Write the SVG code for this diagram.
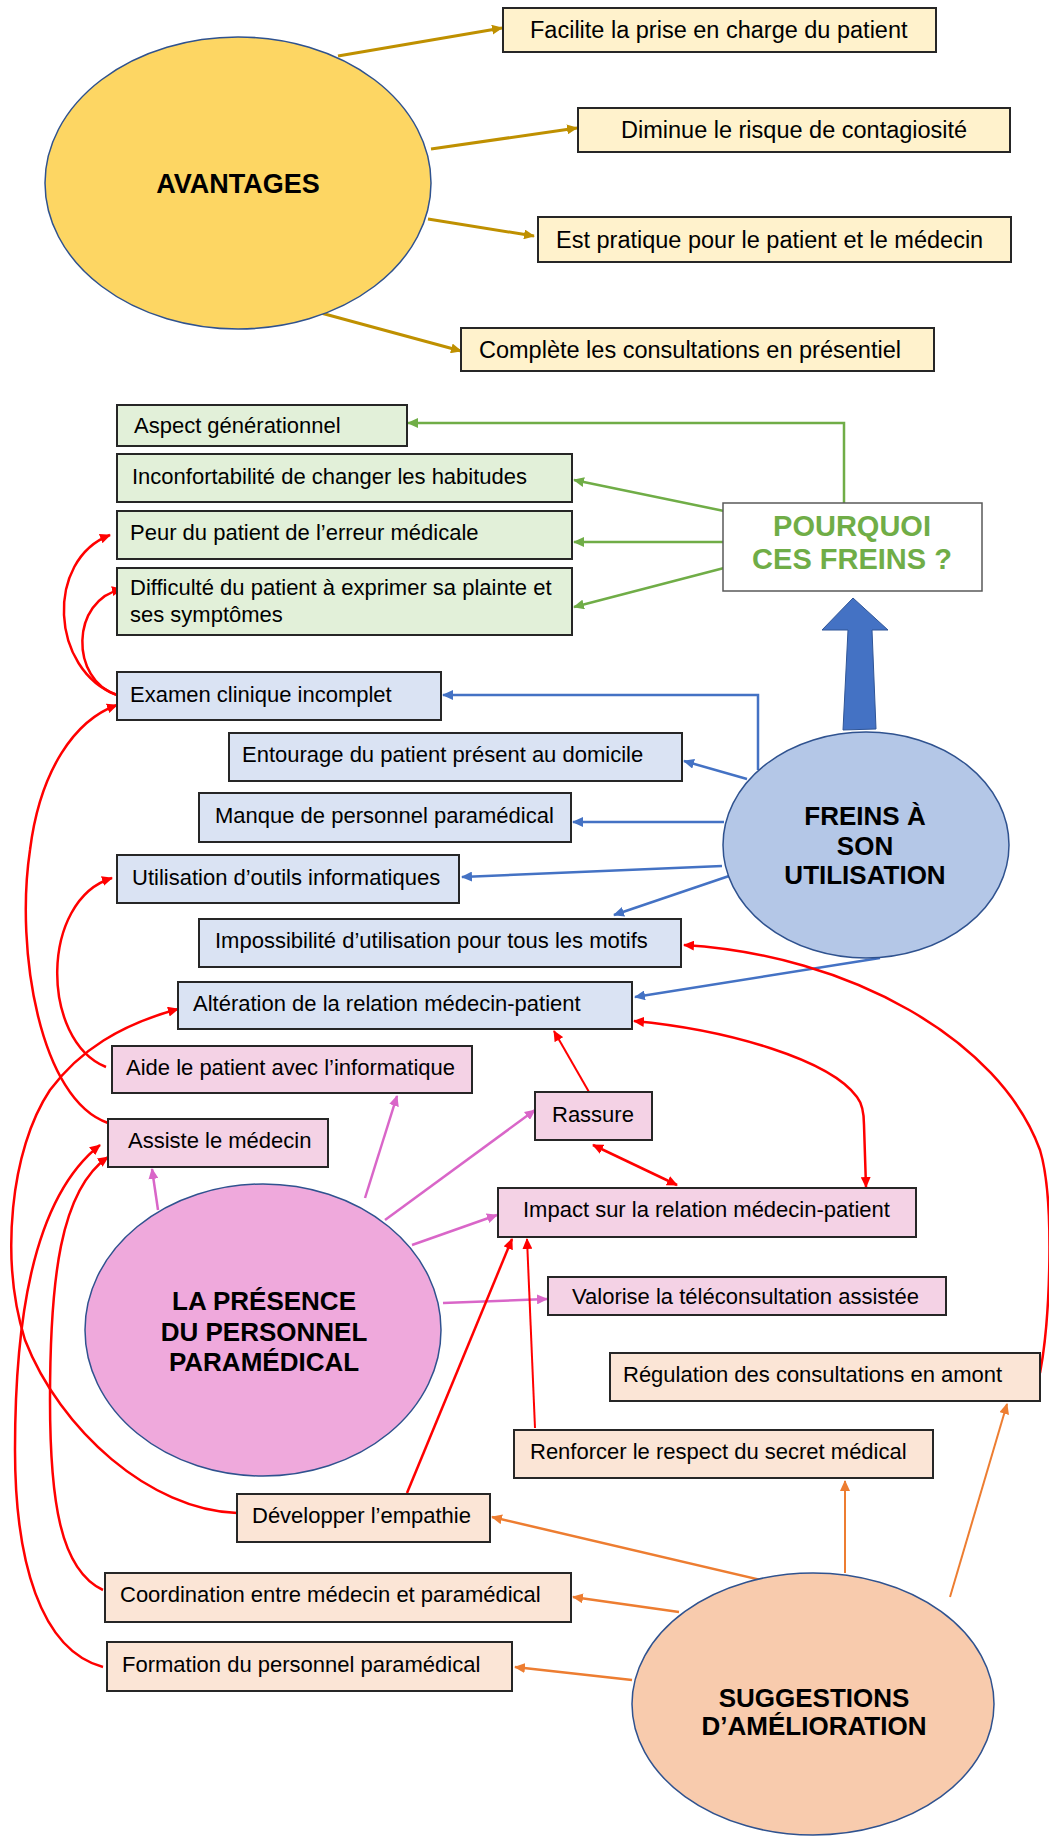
<svg xmlns="http://www.w3.org/2000/svg" width="1049" height="1841" viewBox="0 0 1049 1841">
<defs>
<style>
.box{stroke:#262626;stroke-width:2}
.y{fill:#FFF2CC}.g{fill:#E2F0D9}.b{fill:#DAE3F3}.p{fill:#F4D2E5}.o{fill:#FBE5D6}
.ell{stroke:#2F528F;stroke-width:1.5}
text{font-family:"Liberation Sans",Arial,sans-serif;fill:#000}
.t{font-size:22px}
.tt{font-size:23.5px}
.h{font-size:26px;font-weight:bold;text-anchor:middle}
.c{fill:none}
.gold{stroke:#BF9000;stroke-width:3;marker-end:url(#mGold)}
.grn{stroke:#70AD47;stroke-width:2.5;marker-end:url(#mGrn)}
.blu{stroke:#4472C4;stroke-width:2.5;marker-end:url(#mBlu)}
.red{stroke:#FF0000;stroke-width:2.5;marker-end:url(#mRed)}
.red2{marker-start:url(#mRed)}
.pnk{stroke:#D966C8;stroke-width:2.5;marker-end:url(#mPnk)}
.org{stroke:#ED7D31;stroke-width:2.5;marker-end:url(#mOrg)}
</style>
<marker id="mGold" markerUnits="userSpaceOnUse" markerWidth="12" markerHeight="10" refX="10" refY="5" orient="auto-start-reverse"><path d="M0,0 L11,5 L0,10 z" fill="#BF9000"/></marker>
<marker id="mGrn" markerUnits="userSpaceOnUse" markerWidth="12" markerHeight="10" refX="10" refY="5" orient="auto-start-reverse"><path d="M0,0 L11,5 L0,10 z" fill="#70AD47"/></marker>
<marker id="mBlu" markerUnits="userSpaceOnUse" markerWidth="12" markerHeight="10" refX="10" refY="5" orient="auto-start-reverse"><path d="M0,0 L11,5 L0,10 z" fill="#4472C4"/></marker>
<marker id="mRed" markerUnits="userSpaceOnUse" markerWidth="12" markerHeight="10" refX="10" refY="5" orient="auto-start-reverse"><path d="M0,0 L11,5 L0,10 z" fill="#FF0000"/></marker>
<marker id="mPnk" markerUnits="userSpaceOnUse" markerWidth="12" markerHeight="10" refX="10" refY="5" orient="auto-start-reverse"><path d="M0,0 L11,5 L0,10 z" fill="#D966C8"/></marker>
<marker id="mOrg" markerUnits="userSpaceOnUse" markerWidth="12" markerHeight="10" refX="10" refY="5" orient="auto-start-reverse"><path d="M0,0 L11,5 L0,10 z" fill="#ED7D31"/></marker>
</defs>
<rect width="1049" height="1841" fill="#FFFFFF"/>

<g id="connectors">
  <!-- gold -->
  <path class="c gold" d="M338,56 L502,28"/>
  <path class="c gold" d="M431,149 L577,128"/>
  <path class="c gold" d="M428,219 L534,236"/>
  <path class="c gold" d="M321,313 L461,351"/>
  <!-- green -->
  <path class="c grn" d="M844,503 L844,423 L408,423"/>
  <path class="c grn" d="M724,511 L574,480"/>
  <path class="c grn" d="M724,542 L574,542"/>
  <path class="c grn" d="M724,568 L574,607"/>
  <!-- blue -->
  <path class="c blu" d="M758,770 L758,695 L443,695"/>
  <path class="c blu" d="M747,779 L684,761"/>
  <path class="c blu" d="M724,822 L573,822"/>
  <path class="c blu" d="M722,866 L462,877"/>
  <path class="c blu" d="M732,875 L614,915"/>
  <path class="c blu" d="M880,958 L635,997"/>
  <!-- pink -->
  <path class="c pnk" d="M158,1210 L152,1169"/>
  <path class="c pnk" d="M365,1198 L397,1096"/>
  <path class="c pnk" d="M385,1220 L535,1110"/>
  <path class="c pnk" d="M412,1245 L497,1215"/>
  <path class="c pnk" d="M443,1303 L547,1299"/>
  <!-- orange -->
  <path class="c org" d="M769,1582 L492,1517"/>
  <path class="c org" style="stroke-width:2" d="M845,1573 L845,1481"/>
  <path class="c org" style="stroke-width:2" d="M950,1597 L1007,1404"/>
  <path class="c org" d="M679,1612 L573,1597"/>
  <path class="c org" d="M632,1680 L515,1667"/>
  <!-- red -->
  <path class="c red" d="M117,695 C50,670 45,560 110,535"/>
  <path class="c red" d="M117,695 C70,680 70,600 122,589"/>
  <path class="c red" d="M108,1123 C40,1100 15,950 30,850 C40,770 75,720 117,705"/>
  <path class="c red" d="M106,1067 C40,1040 40,900 112,878"/>
  <path class="c red" d="M237,1513 C150,1510 60,1430 25,1340 C0,1260 10,1150 50,1090 C80,1050 120,1025 178,1009"/>
  <path class="c red" d="M103,1667 C40,1650 15,1560 15,1450 C15,1330 30,1200 100,1145"/>
  <path class="c red" d="M103,1590 C60,1570 50,1500 50,1400 C50,1280 60,1190 108,1157"/>
  <path class="c red" style="stroke-width:2" d="M589,1092 L554,1031"/>
  <path class="c red red2" d="M593,1145 L677,1185"/>
  <path class="c red red2" d="M634,1021 C730,1030 830,1060 857,1097 Q864,1106 864,1125 L866,1187"/>
  <path class="c red" d="M1040,1373 C1050,1320 1055,1200 1040,1150 C1000,1040 850,955 684,945"/>
  <path class="c red" style="stroke-width:2" d="M535,1428 L527,1239"/>
  <path class="c red" d="M407,1493 L512,1239"/>
  <!-- block arrow -->
  <polygon points="843,730 876,729 872,630 888,630 853,598 822,630 848,630" fill="#4472C4" stroke="#2F5597" stroke-width="1"/>
</g>

<g id="avantages">
  <ellipse class="ell" cx="238" cy="183" rx="193" ry="146" fill="#FDD663"/>
  <text class="h" x="238" y="193" style="font-size:27px">AVANTAGES</text>
</g>
<g id="av1"><rect class="box y" x="503" y="8" width="433" height="44"/><text class="tt" x="530" y="38">Facilite la prise en charge du patient</text></g>
<g id="av2"><rect class="box y" x="578" y="108" width="432" height="44"/><text class="tt" x="621" y="138">Diminue le risque de contagiosité</text></g>
<g id="av3"><rect class="box y" x="538" y="217" width="473" height="45"/><text class="tt" x="556" y="248">Est pratique pour le patient et le médecin</text></g>
<g id="av4"><rect class="box y" x="461" y="328" width="473" height="43"/><text class="tt" x="479" y="358">Complète les consultations en présentiel</text></g>

<g id="pourquoi">
  <rect x="723" y="503" width="259" height="88" fill="#FFFFFF" stroke="#595959" stroke-width="1.5"/>
  <text class="h" x="852" y="536" style="font-size:29px;fill:#70AD47">POURQUOI</text>
  <text class="h" x="852" y="569" style="font-size:29px;fill:#70AD47">CES FREINS ?</text>
</g>
<g id="pq1"><rect class="box g" x="117" y="405" width="290" height="41"/><text class="t" x="134" y="433">Aspect générationnel</text></g>
<g id="pq2"><rect class="box g" x="117" y="454" width="455" height="48"/><text class="t" x="132" y="484">Inconfortabilité de changer les habitudes</text></g>
<g id="pq3"><rect class="box g" x="117" y="511" width="455" height="48"/><text class="t" x="130" y="540">Peur du patient de l’erreur médicale</text></g>
<g id="pq4"><rect class="box g" x="117" y="568" width="455" height="67"/><text class="t" x="130" y="595">Difficulté du patient à exprimer sa plainte et</text><text class="t" x="130" y="622">ses symptômes</text></g>

<g id="freins">
  <ellipse class="ell" cx="866" cy="845" rx="143" ry="113" fill="#B4C7E7"/>
  <text class="h" x="865" y="825">FREINS À</text>
  <text class="h" x="865" y="855">SON</text>
  <text class="h" x="865" y="884">UTILISATION</text>
</g>
<g id="fr1"><rect class="box b" x="117" y="672" width="324" height="48"/><text class="t" x="130" y="702">Examen clinique incomplet</text></g>
<g id="fr2"><rect class="box b" x="229" y="733" width="453" height="48"/><text class="t" x="242" y="762">Entourage du patient présent au domicile</text></g>
<g id="fr3"><rect class="box b" x="199" y="793" width="372" height="49"/><text class="t" x="215" y="823">Manque de personnel paramédical</text></g>
<g id="fr4"><rect class="box b" x="117" y="855" width="342" height="48"/><text class="t" x="132" y="885">Utilisation d’outils informatiques</text></g>
<g id="fr5"><rect class="box b" x="199" y="919" width="482" height="48"/><text class="t" x="215" y="948">Impossibilité d’utilisation pour tous les motifs</text></g>
<g id="fr6"><rect class="box b" x="178" y="982" width="454" height="47"/><text class="t" x="193" y="1011">Altération de la relation médecin-patient</text></g>

<g id="presence">
  <ellipse class="ell" cx="263" cy="1330" rx="178" ry="146" fill="#EFA9DC"/>
  <text class="h" x="264" y="1310">LA PRÉSENCE</text>
  <text class="h" x="264" y="1341">DU PERSONNEL</text>
  <text class="h" x="264" y="1371">PARAMÉDICAL</text>
</g>
<g id="pr1"><rect class="box p" x="112" y="1046" width="360" height="47"/><text class="t" x="126" y="1075">Aide le patient avec l’informatique</text></g>
<g id="pr2"><rect class="box p" x="108" y="1119" width="220" height="48"/><text class="t" x="128" y="1148">Assiste le médecin</text></g>
<g id="pr3"><rect class="box p" x="535" y="1092" width="117" height="48"/><text class="t" x="552" y="1122">Rassure</text></g>
<g id="pr4"><rect class="box p" x="498" y="1188" width="418" height="49"/><text class="t" x="523" y="1217">Impact sur la relation médecin-patient</text></g>
<g id="pr5"><rect class="box p" x="548" y="1277" width="398" height="38"/><text class="t" x="572" y="1304">Valorise la téléconsultation assistée</text></g>

<g id="suggestions">
  <ellipse class="ell" cx="813" cy="1704" rx="181" ry="131" fill="#F8CBAD"/>
  <text class="h" x="814" y="1707">SUGGESTIONS</text>
  <text class="h" x="814" y="1735">D’AMÉLIORATION</text>
</g>
<g id="su1"><rect class="box o" x="610" y="1353" width="430" height="48"/><text class="t" x="623" y="1382">Régulation des consultations en amont</text></g>
<g id="su2"><rect class="box o" x="514" y="1430" width="419" height="48"/><text class="t" x="530" y="1459">Renforcer le respect du secret médical</text></g>
<g id="su3"><rect class="box o" x="237" y="1494" width="253" height="48"/><text class="t" x="252" y="1523">Développer l’empathie</text></g>
<g id="su4"><rect class="box o" x="105" y="1573" width="466" height="49"/><text class="t" x="120" y="1602">Coordination entre médecin et paramédical</text></g>
<g id="su5"><rect class="box o" x="107" y="1642" width="405" height="49"/><text class="t" x="122" y="1672">Formation du personnel paramédical</text></g>
</svg>
